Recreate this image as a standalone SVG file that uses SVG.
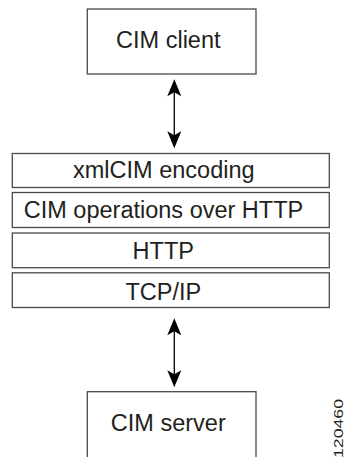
<svg xmlns="http://www.w3.org/2000/svg" width="347" height="457" viewBox="0 0 347 457">
<style>
.box{fill:#ffffff;stroke:#4a4a4a;stroke-width:1.3}
.lbl{font-family:"Liberation Sans",Arial,Helvetica,sans-serif;font-size:23.5px;fill:#231f20;text-anchor:middle}
.conn{stroke:#000000;stroke-width:1.3;fill:none}
.fig{font-family:"Liberation Sans",Arial,Helvetica,sans-serif;font-size:12.6px;fill:#231f20;text-anchor:end}
</style>
<defs>
<marker id="ah" viewBox="-13 -8 19 16" refX="0" refY="0" markerWidth="19" markerHeight="16" markerUnits="userSpaceOnUse" orient="auto-start-reverse">
<path d="M5,0 L-12,-7 L-8,0 L-12,7 Z" fill="#000000"/>
</marker>
</defs>
<rect width="347" height="457" fill="#ffffff"/>
<g id="connectors">
<line class="conn" x1="174.3" y1="84.3" x2="174.3" y2="143.3" marker-start="url(#ah)" marker-end="url(#ah)"/>
<line class="conn" x1="174.3" y1="323.3" x2="174.3" y2="382.3" marker-start="url(#ah)" marker-end="url(#ah)"/>
</g>
<g id="cim-client">
<rect class="box" x="87.3" y="9" width="168.7" height="65"/>
<text class="lbl" x="168.3" y="48.3">CIM client</text>
</g>
<g id="xmlcim-encoding">
<rect class="box" x="12.3" y="153.5" width="317" height="34"/>
<text class="lbl" x="163.8" y="178">xmlCIM encoding</text>
</g>
<g id="cim-operations">
<rect class="box" x="12.3" y="192.5" width="317" height="35"/>
<text class="lbl" x="163.5" y="218.3">CIM operations over HTTP</text>
</g>
<g id="http">
<rect class="box" x="12.3" y="233" width="317" height="34.7"/>
<text class="lbl" x="163.3" y="259.3">HTTP</text>
</g>
<g id="tcpip">
<rect class="box" x="12.3" y="272.8" width="317" height="34.7"/>
<text class="lbl" x="163.3" y="300">TCP/IP</text>
</g>
<g id="cim-server">
<rect class="box" x="87.3" y="391.7" width="168.7" height="75"/>
<text class="lbl" x="168.3" y="430.7">CIM server</text>
</g>
<text class="fig" transform="translate(343,399) rotate(-90)" textLength="59" lengthAdjust="spacingAndGlyphs">120460</text>
</svg>
